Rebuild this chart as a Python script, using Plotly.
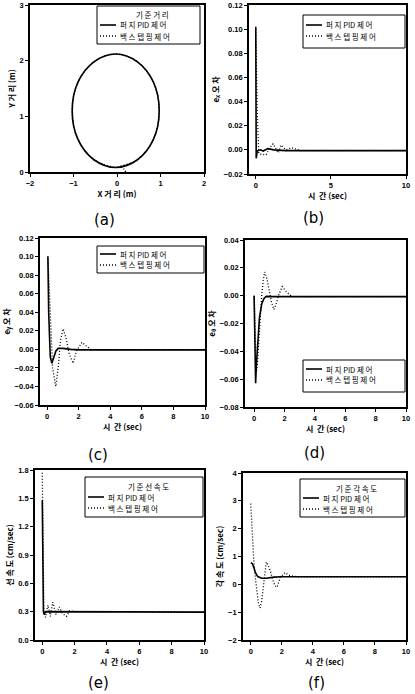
import plotly.graph_objects as go

# ---------------- data ----------------
# (a) trajectory
traj_x = [-0.03, 0.47, 0.84, 0.97, 0.84, 0.47, -0.03, -0.53, -0.90, -1.03, -0.90, -0.53, -0.03]
traj_y = [0.08, 0.22, 0.59, 1.10, 1.61, 1.98, 2.12, 1.98, 1.61, 1.10, 0.59, 0.22, 0.08]
bs_start_x = [0.20, 0.16, 0.12, 0.20, 0.30]
bs_start_y = [0.00, 0.05, 0.10, 0.12, 0.15]

# (b) e_x
b_pid_t = [0, 0.03, 0.1, 0.3, 0.5, 0.8, 1.2, 2.0, 10]
b_pid_v = [0.102, -0.007, -0.001, 0.0, -0.001, 0.001, 0.0, -0.0006, -0.0006]
b_bs_t = [0, 0.1, 0.2, 0.45, 0.7, 0.9, 1.15, 1.5, 1.7, 2.0, 2.4, 3.0, 10]
b_bs_v = [0.1, 0.03, -0.003, -0.004, -0.004, 0.001, 0.005, -0.0025, 0.004, 0.0, 0.0017, -0.0006, -0.0006]

# (c) e_y
c_pid_t = [0.05, 0.1, 0.2, 0.3, 0.4, 0.55, 0.7, 1.0, 1.5, 2.0, 10]
c_pid_v = [0.10, 0.04, -0.008, -0.015, -0.01, -0.002, 0.001, 0.001, 0.0, -0.0006, -0.0006]
c_bs_t = [0.05, 0.2, 0.35, 0.55, 0.7, 0.85, 1.02, 1.2, 1.4, 1.65, 1.85, 2.2, 2.5, 2.8, 10]
c_bs_v = [0.10, 0.03, -0.02, -0.040, -0.02, 0.01, 0.022, 0.012, -0.005, -0.015, -0.002, 0.0075, 0.003, -0.0005, -0.0006]

# (d) e_theta
d_pid_t = [0, 0.05, 0.1, 0.15, 0.25, 0.35, 0.5, 0.65, 0.8, 1.2, 10]
d_pid_v = [0.0, -0.045, -0.063, -0.05, -0.033, -0.016, -0.006, -0.002, -0.0005, -0.0007, -0.0007]
d_bs_t = [0, 0.08, 0.15, 0.22, 0.3, 0.4, 0.5, 0.6, 0.7, 0.85, 1.0, 1.15, 1.3, 1.45, 1.6, 1.85, 2.1, 2.5, 10]
d_bs_v = [0.0, -0.03, -0.055, -0.048, -0.032, -0.015, 0.0, 0.011, 0.017, 0.012, 0.0035, -0.005, -0.010, -0.006, 0.0, 0.0065, 0.003, -0.0007, -0.0007]

# (e) linear velocity
e_pid_t = [0, 0.03, 0.07, 0.12, 0.2, 10]
e_pid_v = [1.48, 0.8, 0.3, 0.27, 0.3, 0.295]
e_bs_t = [0, 0.05, 0.1, 0.2, 0.35, 0.5, 0.65, 0.85, 1.05, 1.25, 1.5, 1.7, 2.0, 10]
e_bs_v = [1.77, 0.9, 0.3, 0.24, 0.37, 0.25, 0.40, 0.27, 0.35, 0.28, 0.25, 0.31, 0.3, 0.295]

# (f) angular velocity
f_pid_t = [0, 0.1, 0.2, 0.3, 0.45, 0.7, 1.0, 1.5, 2.0, 10]
f_pid_v = [0.78, 0.75, 0.6, 0.42, 0.28, 0.22, 0.22, 0.26, 0.27, 0.27]
f_bs_t = [0, 0.05, 0.1, 0.2, 0.3, 0.4, 0.5, 0.6, 0.7, 0.8, 0.9, 1.0, 1.1, 1.25, 1.4, 1.55, 1.7, 1.9, 2.2, 2.5, 3.0, 10]
f_bs_v = [2.9, 2.3, 1.5, 0.8, 0.2, -0.35, -0.7, -0.85, -0.6, -0.15, 0.4, 0.8, 0.7, 0.5, 0.2, -0.05, -0.1, 0.25, 0.42, 0.32, 0.27, 0.27]

PID_NAME = "퍼 지 PID 제 어"
BS_NAME = "백 스 텝 핑 제 어"
leg_titles = {"a": "기 준 거 리", "e": "기 준 선 속 도", "f": "기 준 각 속 도"}

# ---------------- layout constants (pixels) ----------------
W, H = 415, 694
KFONT = "Noto Sans CJK KR"
TFONT = "Liberation Sans"
DOT = "1px,2px"

def px_x(v):
    return v / W

def px_y(v):
    return 1 - v / H

panels = {  # left, right, top, bottom
    "a": (30, 204, 5, 172),
    "b": (249, 406, 5, 174),
    "c": (40, 205, 238, 405),
    "d": (245, 406, 240, 407),
    "e": (35, 204, 470, 640),
    "f": (243, 406, 473, 640),
}
# legend boxes: left, top, right, bottom, title row y, item rows y
legbox = {
    "a": (97, 6, 200, 44, 14, (25, 36)),
    "b": (303, 15, 405, 48, None, (25, 36)),
    "c": (97, 246, 204, 273, None, (254, 265)),
    "d": (303, 360, 405, 392, None, (369, 380)),
    "e": (85, 477, 203, 517, 486, (497, 508)),
    "f": (300, 479, 405, 517, 488, (498, 509)),
}
caps = {"a": (105, 220), "b": (313, 218), "c": (98, 455), "d": (314, 453), "e": (98, 683), "f": (316, 683)}

order = ["a", "b", "c", "d", "e", "f"]
series = {
    "a": ((traj_x, traj_y), (bs_start_x + traj_x, bs_start_y + traj_y)),
    "b": ((b_pid_t, b_pid_v), (b_bs_t, b_bs_v)),
    "c": ((c_pid_t, c_pid_v), (c_bs_t, c_bs_v)),
    "d": ((d_pid_t, d_pid_v), (d_bs_t, d_bs_v)),
    "e": ((e_pid_t, e_pid_v), (e_bs_t, e_bs_v)),
    "f": ((f_pid_t, f_pid_v), (f_bs_t, f_bs_v)),
}

fig = go.Figure()
for i, k in enumerate(order):
    idx = "" if i == 0 else str(i + 1)
    (px, py), (bx, by) = series[k]
    shape = "spline" if k == "a" else "linear"
    fig.add_trace(go.Scatter(x=px, y=py, mode="lines", name=PID_NAME,
                             line=dict(color="black", width=1.6, shape=shape),
                             xaxis="x" + idx, yaxis="y" + idx))
    fig.add_trace(go.Scatter(x=bx, y=by, mode="lines", name=BS_NAME,
                             line=dict(color="black", width=1.3, dash=DOT, shape=shape),
                             xaxis="x" + idx, yaxis="y" + idx))

tickfont = dict(family=TFONT, size=7.5, color="black", weight="bold")
titlefont = dict(family=KFONT, size=8, color="black", weight="bold")
axis_common = dict(showline=True, linecolor="black", linewidth=1.8, mirror=True,
                   ticks="outside", ticklen=3, tickwidth=1, tickcolor="black",
                   showgrid=False, zeroline=False, automargin=False, tickfont=tickfont,
                   ticklabeloverflow="allow")

TIME = "시  간 (sec)"
xcfg = {
    "a": dict(range=[-2, 2], tickvals=[-2, -1, 0, 1, 2], title="X 거 리 (m)"),
    "b": dict(range=[-0.45, 10], tickvals=[0, 5, 10], title=TIME),
    "c": dict(range=[-0.45, 10], tickvals=[0, 2, 4, 6, 8, 10], title=TIME),
    "d": dict(range=[-0.6, 10], tickvals=[0, 2, 4, 6, 8, 10], title=TIME),
    "e": dict(range=[-0.45, 10], tickvals=[0, 2, 4, 6, 8, 10], title=TIME),
    "f": dict(range=[-0.5, 10], tickvals=[0, 2, 4, 6, 8, 10], title=TIME),
}
ycfg = {
    "a": dict(range=[0, 3], tickvals=[0, 1, 2, 3], tickformat="d", title="Y 거 리 (m)"),
    "b": dict(range=[-0.02, 0.12], dtick=0.02, tick0=0, tickformat=".2f", title="e<sub>x</sub> 오 차"),
    "c": dict(range=[-0.06, 0.12], dtick=0.02, tick0=0, tickformat=".2f", title="e<sub>y</sub> 오 차"),
    "d": dict(range=[-0.08, 0.04], dtick=0.02, tick0=0, tickformat=".2f", title="e<sub>θ</sub> 오 차"),
    "e": dict(range=[0, 1.8], dtick=0.3, tick0=0, tickformat=".1f", title="선 속 도 (cm/sec)"),
    "f": dict(range=[-2, 4], dtick=1, tick0=0, tickformat="d", title="각 속 도 (cm/sec)"),
}

layout = dict(width=W, height=H, margin=dict(l=0, r=0, t=0, b=0),
              paper_bgcolor="white", plot_bgcolor="white", showlegend=False)
annotations = []
shapes = []
legfont = dict(family=KFONT, size=7.5, color="black")

for i, k in enumerate(order):
    idx = "" if i == 0 else str(i + 1)
    l, r, t, b = panels[k]
    xc = dict(xcfg[k])
    yc = dict(ycfg[k])
    xt = xc.pop("title")
    yt = yc.pop("title")
    layout["xaxis" + idx] = dict(axis_common, domain=[px_x(l), px_x(r)], anchor="y" + idx, **xc,
                                 title=dict(text=xt, standoff=3, font=titlefont))
    layout["yaxis" + idx] = dict(axis_common, domain=[px_y(b), px_y(t)], anchor="x" + idx, **yc,
                                 title=dict(text=yt, standoff=3, font=titlefont))

    # legend (box, samples, texts)
    L, T, R, B, ty, rows = legbox[k]
    shapes.append(dict(type="rect", xref="paper", yref="paper",
                       x0=px_x(L), x1=px_x(R), y0=px_y(B), y1=px_y(T),
                       line=dict(color="black", width=1), fillcolor="white", layer="above"))
    if ty is not None:
        annotations.append(dict(text=leg_titles[k], x=px_x((L + R) / 2 + 4), y=px_y(ty),
                                xref="paper", yref="paper", showarrow=False, borderpad=0,
                                xanchor="center", yanchor="middle", font=legfont))
    for ry, nm, wdt, dsh in ((rows[0], PID_NAME, 1.6, "solid"), (rows[1], BS_NAME, 1.3, DOT)):
        shapes.append(dict(type="line", xref="paper", yref="paper",
                           x0=px_x(L + 3), x1=px_x(L + 19), y0=px_y(ry), y1=px_y(ry),
                           line=dict(color="black", width=wdt, dash=dsh), layer="above"))
        annotations.append(dict(text=nm, x=px_x(L + 22), y=px_y(ry),
                                xref="paper", yref="paper", showarrow=False, borderpad=0,
                                xanchor="left", yanchor="middle", font=legfont))

    cx, cy = caps[k]
    annotations.append(dict(text="(" + k + ")", x=px_x(cx), y=px_y(cy), xref="paper", yref="paper",
                            showarrow=False, xanchor="center", yanchor="middle",
                            font=dict(family="DejaVu Sans", size=15, color="black")))

layout["annotations"] = annotations
layout["shapes"] = shapes
fig.update_layout(**layout)
fig.write_html("out.html", config={"displayModeBar": False},
               post_script="document.body.style.margin='0';document.body.style.overflow='hidden';")
